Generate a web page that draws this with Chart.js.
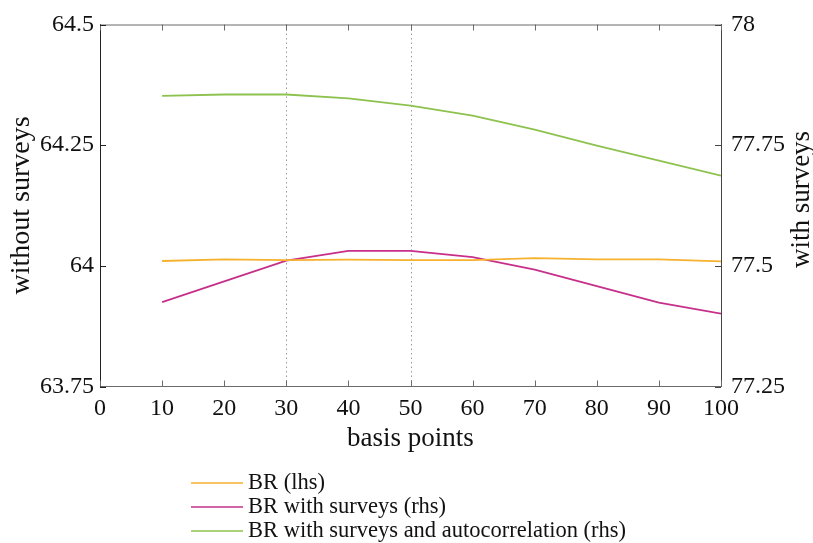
<!DOCTYPE html>
<html>
<head>
<meta charset="utf-8">
<script src="https://cdn.jsdelivr.net/npm/chart.js@4/dist/chart.umd.min.js"></script>
<style>
  html, body { margin: 0; padding: 0; background: #fff; }
  #wrap { width: 813px; height: 543px; }
</style>
</head>
<body>
<div id="wrap"><canvas id="myChart" width="813" height="543"></canvas></div>
<script>
// data
const basisPoints = [10, 20, 30, 40, 50, 60, 70, 80, 90, 100];
const brLhs = [64.010, 64.0135, 64.012, 64.0128, 64.012, 64.012, 64.016, 64.0135, 64.0135, 64.0093];
const brSurveys = [77.425, 77.468, 77.511, 77.531, 77.531, 77.518, 77.492, 77.458, 77.424, 77.401];
const brSurveysAuto = [77.852, 77.855, 77.855, 77.847, 77.832, 77.811, 77.782, 77.749, 77.718, 77.687];

const seriesLabels = ['BR (lhs)', 'BR with surveys (rhs)', 'BR with surveys and autocorrelation (rhs)'];
const leftTicks = [63.75, 64, 64.25, 64.5];
const rightTicks = [77.25, 77.5, 77.75, 78];
const xTicks = [0, 10, 20, 30, 40, 50, 60, 70, 80, 90, 100];
const markerLines = [30, 50];

const xTitle = 'basis points';
const leftTitle = 'without surveys';
const rightTitle = 'with surveys';

const colores = ['#F6B12E', '#C7308A', '#8DC24F'];
const FONT = "'Liberation Serif', 'Times New Roman', serif";

const toPoints = (vals) => basisPoints.map((x, i) => ({ x, y: vals[i] }));
const fmt = v => String(+Number(v).toFixed(2));

const marcoPlugin = {
    id: 'marco',
    beforeDatasetsDraw(chart) {
        const { ctx, chartArea, scales } = chart;
        ctx.save();
        ctx.strokeStyle = '#9a9a9a';
        ctx.lineWidth = 1;
        ctx.setLineDash([1.5, 3]);
        markerLines.forEach(v => {
            const px = Math.round(scales.x.getPixelForValue(v)) + 0.5;
            ctx.beginPath();
            ctx.moveTo(px, chartArea.top);
            ctx.lineTo(px, chartArea.bottom);
            ctx.stroke();
        });
        ctx.restore();
    },
    afterDraw(chart) {
        const { ctx, chartArea, scales } = chart;
        const len = 6;
        ctx.save();
        ctx.lineWidth = 1;
        // top box line
        ctx.strokeStyle = '#6b6b6b';
        ctx.beginPath();
        ctx.moveTo(chartArea.left, chartArea.top + 0.5);
        ctx.lineTo(chartArea.right, chartArea.top + 0.5);
        ctx.stroke();
        // inward ticks
        scales.x.ticks.forEach(t => {
            const px = Math.round(scales.x.getPixelForValue(t.value)) + 0.5;
            ctx.beginPath();
            ctx.moveTo(px, chartArea.bottom);
            ctx.lineTo(px, chartArea.bottom - len);
            ctx.moveTo(px, chartArea.top);
            ctx.lineTo(px, chartArea.top + len);
            ctx.stroke();
        });
        ctx.strokeStyle = '#222';
        scales.y.ticks.forEach(t => {
            const py = Math.round(scales.y.getPixelForValue(t.value)) + 0.5;
            ctx.beginPath();
            ctx.moveTo(chartArea.left, py);
            ctx.lineTo(chartArea.left + len, py);
            ctx.stroke();
        });
        ctx.strokeStyle = '#444';
        scales.y2.ticks.forEach(t => {
            const py = Math.round(scales.y2.getPixelForValue(t.value)) + 0.5;
            ctx.beginPath();
            ctx.moveTo(chartArea.right, py);
            ctx.lineTo(chartArea.right - len, py);
            ctx.stroke();
        });

        // right title, reads bottom to top like the left one
        ctx.fillStyle = '#111';
        ctx.font = '27px ' + FONT;
        ctx.textAlign = 'center';
        ctx.textBaseline = 'middle';
        ctx.translate(802, (chartArea.top + chartArea.bottom) / 2 - 6);
        ctx.rotate(-Math.PI / 2);
        ctx.fillText(rightTitle, 0, 0);
        ctx.restore();

        // legend below
        ctx.save();
        ctx.font = '22.5px ' + FONT;
        ctx.textBaseline = 'middle';
        ctx.textAlign = 'left';
        chart.data.datasets.forEach((ds, i) => {
            const y = 483 + i * 24;
            ctx.strokeStyle = ds.borderColor;
            ctx.lineWidth = 1.6;
            ctx.beginPath();
            ctx.moveTo(191, y);
            ctx.lineTo(243, y);
            ctx.stroke();
            ctx.fillStyle = '#111';
            ctx.fillText(ds.label, 248, y);
        });
        ctx.restore();
    }
};

const ctx = document.querySelector('#myChart').getContext('2d');
const myChart = new Chart(ctx, {
    type: 'line',
    data: {
        datasets: [
            { label: seriesLabels[0], data: toPoints(brLhs), yAxisID: 'y', borderColor: colores[0] },
            { label: seriesLabels[1], data: toPoints(brSurveys), yAxisID: 'y2', borderColor: colores[1] },
            { label: seriesLabels[2], data: toPoints(brSurveysAuto), yAxisID: 'y2', borderColor: colores[2] }
        ]
    },
    options: {
        responsive: false,
        animation: false,
        devicePixelRatio: 1,
        layout: { padding: { top: 24.5, left: 0, right: 0, bottom: 87.5 } },
        elements: {
            line: { borderWidth: 1.8, tension: 0, fill: false },
            point: { radius: 0 }
        },
        plugins: {
            legend: { display: false },
            tooltip: { enabled: false }
        },
        scales: {
            x: {
                type: 'linear',
                min: 0,
                max: 100,
                afterBuildTicks: s => { s.ticks = xTicks.map(v => ({ value: v })); },
                afterFit: s => { s.height = 69; },
                grid: { display: false, drawTicks: false },
                border: { display: true, color: '#6b6b6b', width: 1 },
                ticks: { color: '#111', font: { family: FONT, size: 24 }, padding: 8, maxRotation: 0, callback: v => fmt(v) },
                title: { display: true, text: xTitle, color: '#111', font: { family: FONT, size: 27 }, padding: 0 }
            },
            y: {
                position: 'left',
                min: 63.75,
                max: 64.5,
                afterBuildTicks: s => { s.ticks = leftTicks.map(v => ({ value: v })); },
                afterFit: s => { s.width = 100; },
                grid: { display: false, drawTicks: false },
                border: { display: true, color: '#222', width: 1 },
                ticks: { color: '#111', font: { family: FONT, size: 24 }, padding: 6, callback: v => fmt(v) },
                title: { display: true, text: leftTitle, color: '#111', font: { family: FONT, size: 28 }, padding: { top: 5, bottom: 0 } }
            },
            y2: {
                position: 'right',
                min: 77.25,
                max: 78,
                afterBuildTicks: s => { s.ticks = rightTicks.map(v => ({ value: v })); },
                afterFit: s => { s.width = 92; },
                grid: { display: false, drawTicks: false },
                border: { display: true, color: '#444', width: 1 },
                ticks: { color: '#111', font: { family: FONT, size: 24 }, padding: 10, callback: v => fmt(v) }
            }
        }
    },
    plugins: [marcoPlugin]
});
</script>
</body>
</html>
